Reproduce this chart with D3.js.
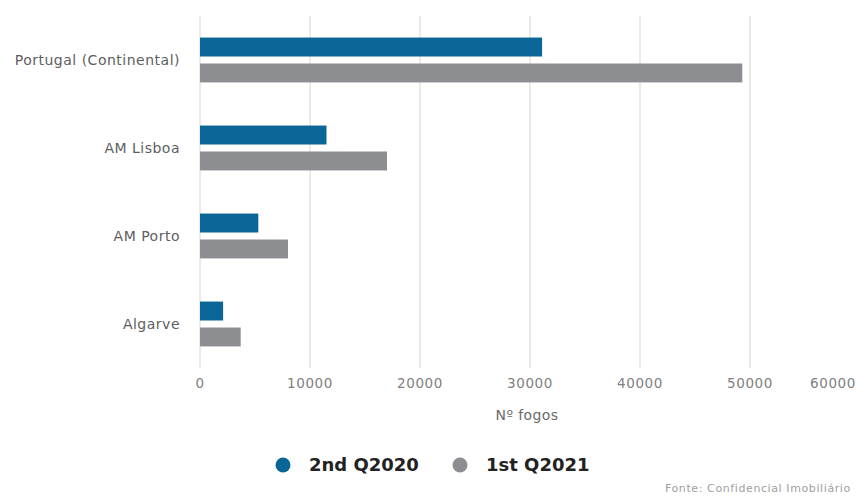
<!DOCTYPE html>
<html>
<head>
<meta charset="utf-8">
<script src="https://cdn.jsdelivr.net/npm/d3@7"></script>
<style>
  body { margin: 0; background: #fff; }
  svg { display: block; font-family: "DejaVu Sans", sans-serif; }
</style>
</head>
<body>
<div id="chart"></div>
<script>
// data
var categories = ["Portugal (Continental)", "AM Lisboa", "AM Porto", "Algarve"];
var seriesNames = ["2nd Q2020", "1st Q2021"];
var q2020 = [31100, 11500, 5300, 2100];
var q2021 = [49300, 17000, 8000, 3700];
var xTicks = [0, 10000, 20000, 30000, 40000, 50000, 60000];
var colors = ["#0b6698", "#8d8e92"];

var width = 856, height = 496;
var margin = {top: 16, left: 200, right: -4, bottom: 128};
var iw = width - margin.left - margin.right;
var ih = height - margin.top - margin.bottom;

var svg = d3.select("#chart").append("svg")
    .attr("width", width).attr("height", height);
var g = svg.append("g").attr("transform", "translate(" + margin.left + "," + margin.top + ")");

var x = d3.scaleLinear().domain([0, 60000]).range([0, iw]);
var y = d3.scaleBand().domain(categories).range([0, ih]).paddingInner(0.49).paddingOuter(0.245);
var sub = d3.scaleBand().domain([0, 1]).range([0, y.bandwidth()]).paddingInner(0.27);

// gridlines
g.append("g").selectAll("line")
    .data(xTicks)
    .enter().append("line")
    .attr("x1", function(d) { return x(d); })
    .attr("x2", function(d) { return x(d); })
    .attr("y1", 0).attr("y2", ih)
    .attr("stroke", "#dcdcdc").attr("stroke-width", 1.2);

// x tick labels
g.append("g").selectAll("text")
    .data(xTicks)
    .enter().append("text")
    .attr("x", function(d, i) { return i == xTicks.length - 1 ? width - margin.left : x(d); })
    .attr("y", ih + 20)
    .attr("text-anchor", function(d, i) { return i == xTicks.length - 1 ? "end" : "middle"; })
    .attr("fill", "#808080")
    .attr("font-size", 13.5)
    .attr("letter-spacing", 0.6)
    .text(function(d) { return d; });

g.append("text")
    .attr("x", x(30000) - 3)
    .attr("y", ih + 52)
    .attr("text-anchor", "middle")
    .attr("fill", "#6a6a6a")
    .attr("font-size", 14)
    .attr("letter-spacing", 0.4)
    .text("Nº fogos");

// category labels
g.append("g").selectAll("text")
    .data(categories)
    .enter().append("text")
    .attr("x", -20)
    .attr("y", function(d) { return y(d) + y.bandwidth() / 2; })
    .attr("dy", "0.35em")
    .attr("text-anchor", "end")
    .attr("fill", "#5e5e5e")
    .attr("font-size", 14)
    .attr("letter-spacing", 0.5)
    .text(function(d) { return d; });

// bars
var series = [q2020, q2021];
series.forEach(function(vals, s) {
    g.append("g").selectAll("rect")
        .data(vals)
        .enter().append("rect")
        .attr("x", x(0))
        .attr("y", function(d, i) { return y(categories[i]) + sub(s); })
        .attr("width", function(d) { return x(d) - x(0); })
        .attr("height", sub.bandwidth())
        .attr("fill", colors[s]);
});

// legend
var legendX = [283, 460];
var legend = svg.append("g");
seriesNames.forEach(function(name, i) {
    legend.append("circle")
        .attr("cx", legendX[i]).attr("cy", 465).attr("r", 7.5)
        .attr("fill", colors[i]);
    legend.append("text")
        .attr("x", legendX[i] + 26).attr("y", 465)
        .attr("dy", "0.36em")
        .attr("font-size", 18).attr("font-weight", 700)
        .attr("fill", "#222")
        .text(name);
});

svg.append("text")
    .attr("x", 665).attr("y", 492)
    .attr("font-size", 11)
    .attr("letter-spacing", 0.6)
    .attr("fill", "#a0a0a0")
    .text("Fonte: Confidencial Imobiliário");
</script>
</body>
</html>
